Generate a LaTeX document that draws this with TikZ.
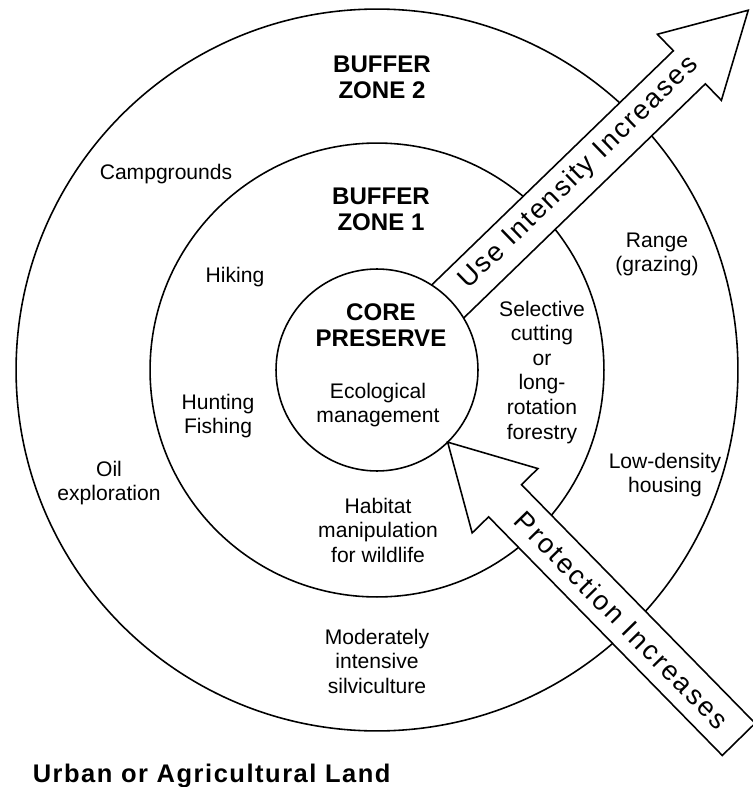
\documentclass[tikz,border=0pt]{standalone}
\usepackage{fontspec}
\setmainfont{Liberation Sans}
\begin{document}
\begin{tikzpicture}[x=0.02cm,y=-0.02cm,line width=0.9pt,
  ring/.style={circle,draw,inner sep=0pt,outer sep=0pt},
  body/.style={font=\fontsize{12}{14}\selectfont,align=center,inner sep=0pt},
  head/.style={font=\bfseries\fontsize{13.7}{15}\selectfont,align=center,inner sep=0pt},
  arrowtext/.style={inner sep=0pt,transform shape},
  bigarrow/.style={draw,fill=white,line join=miter}]
\useasboundingbox (0,0) rectangle (752,787);
\coordinate (c) at (377,370);
% rings
\node[ring,minimum size=14.44cm] (outer) at (c) {};
\node[ring,minimum size=9.08cm] (middle) at (c) {};
% use intensity arrow
\begin{scope}[shift={(c)},rotate=44.1]
  \draw[bigarrow] (98.35,23) -- (435,23) -- (435,46) -- (517,0) -- (435,-46) -- (435,-23) -- (98.35,-23);
  \node[arrowtext,font=\fontsize{15.5}{17}\selectfont\addfontfeature{LetterSpace=7}] (usetext) at (282,-1) {Use Intensity Increases};
\end{scope}
% protection arrow
\begin{scope}[shift={(c)},rotate=-45.6]
  \draw[bigarrow] (101,0) -- (183,46) -- (183,23) -- (517,23) -- (517,-23) -- (183,-23) -- (183,-46) -- cycle;
  \node[arrowtext,font=\fontsize{15.5}{17}\selectfont\addfontfeature{LetterSpace=9}] (protext) at (350,0) {Protection Increases};
\end{scope}
% core
\node[ring,minimum size=4.04cm] (core) at (c) {};
% headings
\node[head,anchor=north] (bz2) at (382,55) {BUFFER\\ZONE 2};
\node[head,anchor=north] (bz1) at (381,187) {BUFFER\\ZONE 1};
\node[head,anchor=north] (cp) at (381,303) {CORE\\PRESERVE};
% body labels
\node[body,anchor=north] (eco) at (378,382) {Ecological\\management};
\node[body,anchor=base] (camp) at (166,180) {Campgrounds};
\node[body,anchor=base] (hike) at (235,282) {Hiking};
\node[body,anchor=north] (hunt) at (218,393) {Hunting\\Fishing};
\node[body,anchor=north] (sel) at (542,300) {Selective\\cutting\\or\\long-\\rotation\\forestry};
\node[body,anchor=north] (range) at (657,232) {Range\\(grazing)};
\node[body,anchor=north] (lowd) at (665,452) {Low-density\\housing};
\node[body,anchor=north] (oil) at (109,460) {Oil\\exploration};
\node[body,anchor=north] (hab) at (378,497) {Habitat\\manipulation\\for wildlife};
\node[body,anchor=north] (mod) at (377,628) {Moderately\\intensive\\silviculture};
\node[inner sep=0pt,anchor=base west,font=\bfseries\fontsize{14.5}{16}\selectfont\addfontfeature{LetterSpace=6}] (urban) at (32,782) {Urban or Agricultural Land};
\end{tikzpicture}
\end{document}
